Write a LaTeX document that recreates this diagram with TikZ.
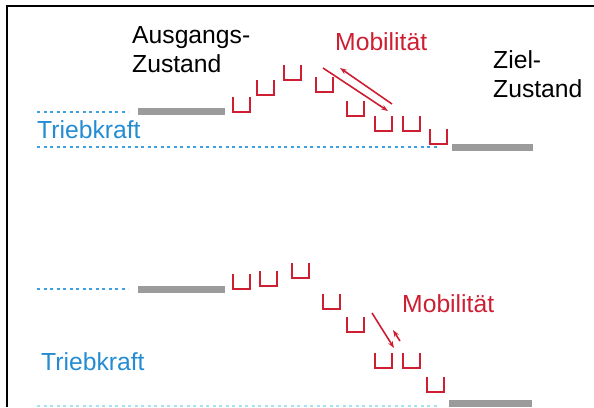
\documentclass[tikz,border=0pt]{standalone}
\usepackage{fontspec}
\setmainfont{Liberation Sans}
\usetikzlibrary{arrows.meta}
\definecolor{mred}{RGB}{205,30,50}
\definecolor{mblue}{RGB}{35,140,210}
\definecolor{dblue}{RGB}{60,160,225}
\definecolor{lcyan}{RGB}{170,225,240}
\definecolor{bargray}{RGB}{155,155,155}
\tikzset{
  lbl/.style={anchor=base west, inner sep=0pt, font=\fontsize{24.7}{29}\selectfont},
  cupline/.style={draw=mred, line width=1.8pt, line cap=butt, line join=miter},
  cup/.pic={\draw[cupline] (0,0) -- (0,15) -- (17,15) -- (17,0);},
  bar/.style={draw=bargray, line width=7pt},
  dotline/.style={draw=dblue, line width=1.5pt, dash pattern=on 3pt off 3.5pt},
  marrow/.style={draw=mred, line width=1.6pt, -{Stealth[length=7pt,width=5pt]}},
  frame/.style={draw=black, line width=2pt}
}
\begin{document}
\begin{tikzpicture}[x=1pt,y=-1pt]
\useasboundingbox (0,0) rectangle (594,407);
% frame
\coordinate (fbl) at (7,407);
\coordinate (ftl) at (7,6);
\coordinate (ftr) at (594,6);
\draw[frame] (fbl) -- (ftl) -- (ftr);

% ---------- top panel ----------
\node[lbl] (ausg1) at (132,43) {Ausgangs-};
\node[lbl] (ausg2) at (132,72) {Zustand};
\node[lbl, text=mred] (mob1) at (335,50) {Mobilität};
\node[lbl] (ziel1) at (493,68) {Ziel-};
\node[lbl] (ziel2) at (493,97) {Zustand};
\node[lbl, text=mblue] (trieb1) at (37,138) {Triebkraft};

\coordinate (d1a) at (37,112); \coordinate (d1b) at (128,112);
\draw[dotline] (d1a) -- (d1b);
\coordinate (d2a) at (37,147); \coordinate (d2b) at (440,147);
\draw[dotline] (d2a) -- (d2b);

\coordinate (g1a) at (138,111.5); \coordinate (g1b) at (225,111.5);
\draw[bar] (g1a) -- (g1b);
\coordinate (g2a) at (452,147.5); \coordinate (g2b) at (533,147.5);
\draw[bar] (g2a) -- (g2b);

\pic (t1) at (233,97) {cup};
\pic (t2) at (257,80) {cup};
\pic (t3) at (284,65) {cup};
\pic (t4) at (316,77) {cup};
\pic (t5) at (347,101) {cup};
\pic (t6) at (375,116) {cup};
\pic (t7) at (403,116) {cup};
\pic (t8) at (430,129) {cup};

\coordinate (a1s) at (323,68); \coordinate (a1e) at (388,111);
\draw[marrow] (a1s) -- (a1e);
\coordinate (a2s) at (392,104); \coordinate (a2e) at (340,68);
\draw[marrow] (a2s) -- (a2e);

% ---------- bottom panel ----------
\node[lbl, text=mred] (mob2) at (402,312) {Mobilität};
\node[lbl, text=mblue] (trieb2) at (41,370) {Triebkraft};

\coordinate (d3a) at (37,289); \coordinate (d3b) at (128,289);
\draw[dotline] (d3a) -- (d3b);
\coordinate (d4a) at (37,406); \coordinate (d4b) at (440,406);
\draw[dotline, draw=lcyan] (d4a) -- (d4b);

\coordinate (g3a) at (138,289.5); \coordinate (g3b) at (225,289.5);
\draw[bar] (g3a) -- (g3b);
\coordinate (g4a) at (449,403.5); \coordinate (g4b) at (532,403.5);
\draw[bar] (g4a) -- (g4b);

\pic (b1) at (233,274) {cup};
\pic (b2) at (260,271) {cup};
\pic (b3) at (292,263) {cup};
\pic (b4) at (323,294) {cup};
\pic (b5) at (347,317) {cup};
\pic (b6) at (375,353) {cup};
\pic (b7) at (403,353) {cup};
\pic (b8) at (427,377) {cup};

\coordinate (a3s) at (372,313); \coordinate (a3e) at (394,348);
\draw[marrow] (a3s) -- (a3e);
\coordinate (a4s) at (400,341); \coordinate (a4e) at (393,330);
\draw[marrow] (a4s) -- (a4e);
\end{tikzpicture}
\end{document}
